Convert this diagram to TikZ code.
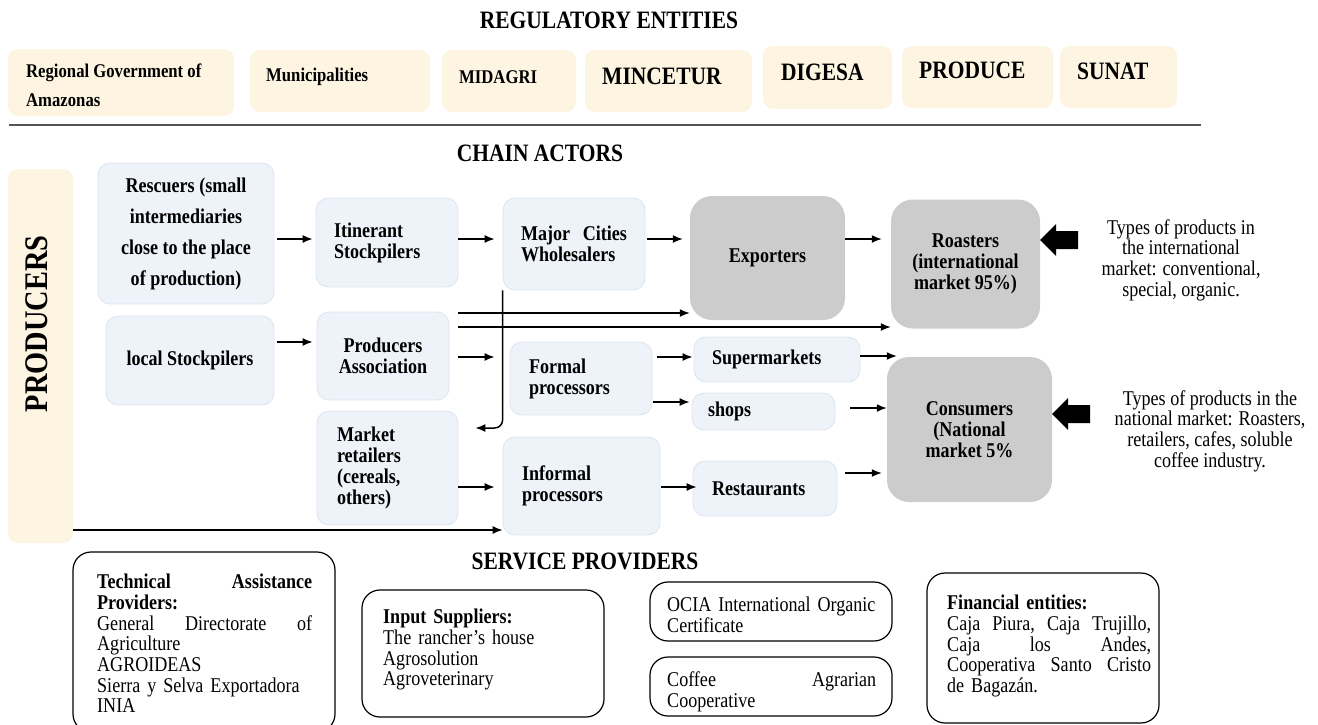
\documentclass[tikz,border=0pt]{standalone}
\usepackage{fontspec}
\setmainfont{Liberation Serif}[FakeStretch=0.86]
\usetikzlibrary{arrows.meta}

\definecolor{regfill}{HTML}{FDF5E2}
\definecolor{chainfill}{HTML}{EEF2F9}
\definecolor{chainline}{HTML}{DDE4F1}
\definecolor{grayfill}{HTML}{CCCCCC}
\definecolor{sepgray}{HTML}{555555}

\begin{document}
\begin{tikzpicture}[
    x=1pt, y=-1pt,
    regbox/.style={fill=regfill, rounded corners=10pt, inner sep=0pt},
    regtext/.style={inner sep=0pt, align=left, font=\bfseries\fontsize{19.4}{21}\selectfont},
    bigreg/.style={inner sep=0pt, font=\bfseries\fontsize{25}{27}\selectfont},
    headline/.style={inner sep=0pt, font=\bfseries\fontsize{25}{27}\selectfont},
    chainbox/.style={fill=chainfill, draw=chainline, line width=0.8pt, rounded corners=12pt,
        align=center, font=\bfseries\fontsize{21}{21}\selectfont},
    graybox/.style={fill=grayfill, rounded corners=22pt, align=center,
        font=\bfseries\fontsize{21}{21}\selectfont},
    servbox/.style={draw, line width=1.2pt, rounded corners=18pt},
    servtext/.style={anchor=north west, align=left, inner sep=0pt, font=\fontsize{21}{20.7}\selectfont},
    note/.style={align=center, inner sep=0pt, font=\fontsize{21}{20.7}\selectfont},
    flow/.style={-{Latex[length=10pt,width=8pt]}, line width=1.5pt}
]
    \useasboundingbox (0,0) rectangle (1318,724);

    \node[headline] (regtitle) at (609,20) {REGULATORY ENTITIES};

    \node[regbox, minimum width=226pt, minimum height=67pt] (regional) at (121,82.5) {};
    \node[regbox, minimum width=180pt, minimum height=62pt] (munic) at (340,81) {};
    \node[regbox, minimum width=134pt, minimum height=62pt] (midagri) at (509,81) {};
    \node[regbox, minimum width=167pt, minimum height=62pt] (mincetur) at (668.5,81) {};
    \node[regbox, minimum width=129pt, minimum height=63pt] (digesa) at (827.5,77.5) {};
    \node[regbox, minimum width=151pt, minimum height=62pt] (produce) at (977.5,77) {};
    \node[regbox, minimum width=117pt, minimum height=62pt] (sunat) at (1118.5,77) {};

    \node[regtext, anchor=west, font=\bfseries\fontsize{19.4}{29}\selectfont] (regionaltxt)
        at (26,85.5) {Regional Government of\\Amazonas};
    \node[regtext, anchor=west] (munictxt) at (266,77) {Municipalities};
    \node[regtext, anchor=west] (midagritxt) at (459,77) {MIDAGRI};
    \node[bigreg, anchor=west] (mincetutxt) at (602,76) {MINCETUR};
    \node[bigreg, anchor=west] (digesatxt) at (781,72) {DIGESA};
    \node[bigreg, anchor=west] (producetxt) at (919,70) {PRODUCE};
    \node[bigreg, anchor=west] (sunattxt) at (1077,71) {SUNAT};

    \draw[line width=2pt, sepgray] (9,125) -- (1201,125);

    \node[headline] (chaintitle) at (540,153) {CHAIN ACTORS};

    \node[regbox, minimum width=65pt, minimum height=374pt] (producers) at (40.5,356) {};
    \node[rotate=90, inner sep=0pt, font=\bfseries\fontsize{33}{35}\selectfont] (producerstxt)
        at (37,324) {PRODUCERS};

    \node[chainbox, minimum width=176pt, minimum height=141pt, font=\bfseries\fontsize{21}{31}\selectfont]
        (rescuers) at (186,233.5) {Rescuers (small\\intermediaries\\close to the place\\of production)};
    \node[chainbox, align=left, text width=106pt, inner xsep=18pt, minimum height=89pt]
        (itin) at (387,242.5) {Itinerant\\Stockpilers};
    \node[chainbox, align=left, text width=106pt, inner xsep=18pt, minimum height=92pt]
        (major) at (574,244) {Major\hfill Cities\\Wholesalers};
    \node[chainbox, minimum width=168pt, minimum height=89pt]
        (local) at (190,360.5) {local Stockpilers};
    \node[chainbox, minimum width=132pt, minimum height=88pt]
        (assoc) at (383,356) {Producers\\Association};
    \node[chainbox, align=left, text width=101pt, inner xsep=20pt, minimum height=114pt]
        (market) at (387.5,468) {Market\\retailers\\(cereals,\\others)};
    \node[chainbox, align=left, text width=104pt, inner xsep=19pt, minimum height=73pt]
        (formal) at (581,378.5) {Formal\\processors};
    \node[chainbox, align=left, text width=119pt, inner xsep=19pt, minimum height=98pt]
        (informal) at (581.5,486) {Informal\\processors};
    \node[chainbox, align=left, text width=130pt, inner xsep=18pt, minimum height=45pt]
        (super) at (777,359.5) {Supermarkets};
    \node[chainbox, align=left, text width=111pt, inner xsep=16pt, minimum height=37pt]
        (shops) at (763.5,411.5) {shops};
    \node[chainbox, align=left, text width=106pt, inner xsep=19pt, minimum height=55pt]
        (rest) at (765,488.5) {Restaurants};

    \node[graybox, minimum width=155pt, minimum height=124pt] (exporters) at (767.5,258) {Exporters};
    \node[graybox, minimum width=149pt, minimum height=129pt]
        (roasters) at (965.5,264) {Roasters\\(international\\market 95\%)};
    \node[graybox, minimum width=165pt, minimum height=145pt]
        (consumers) at (969.5,429.5) {Consumers\\(National\\market 5\%};

    \draw[flow, shorten <=3pt, shorten >=3pt] (rescuers.east |- 0,239) -- (itin.west |- 0,239);
    \draw[flow, shorten >=8pt] (itin.east |- 0,239) -- (major.west |- 0,239);
    \draw[flow, shorten <=2pt, shorten >=7pt] (major.east |- 0,239) -- (exporters.west |- 0,239);
    \draw[flow, shorten >=9pt] (exporters.east |- 0,239) -- (roasters.west |- 0,239);
    \draw[flow, shorten <=3pt, shorten >=4pt] (local.east |- 0,342) -- (assoc.west |- 0,342);
    \draw[flow, shorten <=9pt] (assoc.east |- 0,313) -- (exporters.west |- 0,313);
    \draw[flow, shorten <=9pt] (assoc.east |- 0,327) -- (roasters.west |- 0,327);
    \draw[flow, shorten <=9pt, shorten >=15pt] (assoc.east |- 0,357) -- (formal.west |- 0,357);
    \draw[flow, rounded corners=8pt, shorten >=17pt]
        (major.south west) -- (major.west |- 0,428) -- (market.east |- 0,428);
    \draw[flow, shorten <=5pt, shorten >=1pt] (formal.east |- 0,357) -- (super.west |- 0,357);
    \draw[flow, shorten <=1pt, shorten >=2pt] (formal.east |- 0,402) -- (shops.west |- 0,402);
    \draw[flow, shorten >=-10pt] (super.east |- 0,356) -- (consumers.west |- 0,356);
    \draw[flow, shorten <=15pt] (shops.east |- 0,408) -- (consumers.west |- 0,408);
    \draw[flow, shorten >=8pt] (market.east |- 0,487) -- (informal.west |- 0,487);
    \draw[flow, shorten <=1pt, shorten >=-4pt] (informal.east |- 0,487) -- (rest.west |- 0,487);
    \draw[flow, shorten <=8pt, shorten >=5pt] (rest.east |- 0,473) -- (consumers.west |- 0,473);
    \draw[flow] (producers.east |- 0,530) -- (informal.west |- 0,530);

    \fill (roasters.east |- 0,240) -- ++(16,-16) -- ++(0,7) -- ++(22,0)
        -- ++(0,18) -- ++(-22,0) -- ++(0,7) -- cycle;
    \fill (consumers.east |- 0,414) -- ++(16,-16) -- ++(0,7) -- ++(22,0)
        -- ++(0,18) -- ++(-22,0) -- ++(0,7) -- cycle;

    \node[note] (intnote) at (1181,260)
        {Types of products in\\the international\\market: conventional,\\special, organic.};
    \node[note] (natnote) at (1210,431)
        {Types of products in the\\national market: Roasters,\\retailers, cafes, soluble\\coffee industry.};

    \node[headline] (servtitle) at (585,561) {SERVICE PROVIDERS};

    \node[servbox, minimum width=262pt, minimum height=180pt] (techbox) at (204,642) {};
    \node[servbox, minimum width=242pt, minimum height=127pt] (inputbox) at (483,653.5) {};
    \node[servbox, minimum width=242pt, minimum height=59pt] (ociabox) at (771,611.5) {};
    \node[servbox, minimum width=242pt, minimum height=59pt] (coffeebox) at (771,686.5) {};
    \node[servbox, minimum width=232pt, minimum height=150pt] (finbox) at (1043,648) {};

    \node[servtext, text width=215pt] (techtxt) at (97,574)
        {{\bfseries Technical\hfill Assistance}\\{\bfseries Providers:}\\General\hfill Directorate\hfill of\\Agriculture\\AGROIDEAS\\Sierra y Selva Exportadora\\INIA};
    \node[servtext, text width=200pt] (inputtxt) at (383,609)
        {{\bfseries Input Suppliers:}\\The rancher's house\\Agrosolution\\Agroveterinary};
    \node[servtext, text width=209pt] (ociatxt) at (667,597)
        {OCIA International Organic\\Certificate};
    \node[servtext, text width=209pt] (coffeetxt) at (667,672)
        {Coffee\hfill Agrarian\\Cooperative};
    \node[servtext, text width=204pt] (fintxt) at (947,595)
        {{\bfseries Financial entities:}\\Caja\hfill Piura,\hfill Caja\hfill Trujillo,\\Caja\hfill los\hfill Andes,\\Cooperativa\hfill Santo\hfill Cristo\\de Bagazán.};
\end{tikzpicture}
\end{document}
